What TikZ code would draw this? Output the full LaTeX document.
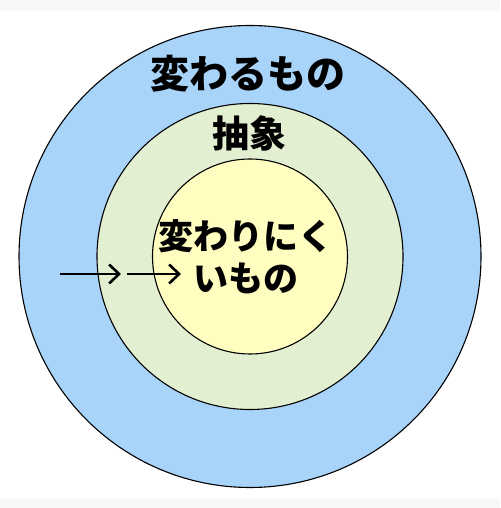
\documentclass[tikz,border=0pt]{standalone}
\usepackage{fontspec}
\usepackage{xcolor}
\usepackage{tikz}
\usetikzlibrary{arrows.meta, positioning, calc}
\newfontfamily\jpfont{Noto Sans CJK JP}
\definecolor{ringblue}{HTML}{A9D4FA}
\definecolor{ringgreen}{HTML}{E3EFD1}
\definecolor{coreyellow}{HTML}{FFFDC0}
\definecolor{bandgray}{HTML}{F7F7F7}

\begin{document}
\begin{tikzpicture}[
  x=1pt, y=1pt,
  ring/.style={circle, draw=black, line width=1.1pt, inner sep=0pt},
  label/.style={font=\jpfont\bfseries, align=center, inner sep=0pt},
  arrow/.style={-{Straight Barb[length=10pt, width=19pt]}, line width=2.6pt}
]
  % Canvas
  \fill[white] (0,0) rectangle (500,508);
  \fill[bandgray] (0,497) rectangle (500,508);
  \fill[bandgray] (0,0) rectangle (500,9);
  \useasboundingbox (0,0) rectangle (500,508);

  % Rings
  \node[ring, fill=ringblue, minimum size=462pt] (outer) at (250,251.5) {};
  \node[ring, fill=ringgreen, minimum size=306pt] (middle) at (250,251.5) {};
  \node[ring, fill=coreyellow, minimum size=195pt] (core) at (250,251.5) {};

  % Labels
  \node[label, font=\jpfont\bfseries\fontsize{39}{42}\selectfont] (change) at (248,434) {変わるもの};
  \node[label, font=\jpfont\bfseries\fontsize{37}{40}\selectfont] (abstract) at (249,375) {抽象};
  \node[label, font=\jpfont\bfseries\fontsize{35}{42}\selectfont] (stable) at (246,251) {変わりにく\\いもの};

  % Arrows
  \coordinate (a0) at (60,234);
  \coordinate (a1) at (121,234);
  \coordinate (b0) at (127,234);
  \coordinate (b1) at (181,234);
  \draw[arrow] (a0) -- (a1);
  \draw[arrow] (b0) -- (b1);
\end{tikzpicture}
\end{document}
